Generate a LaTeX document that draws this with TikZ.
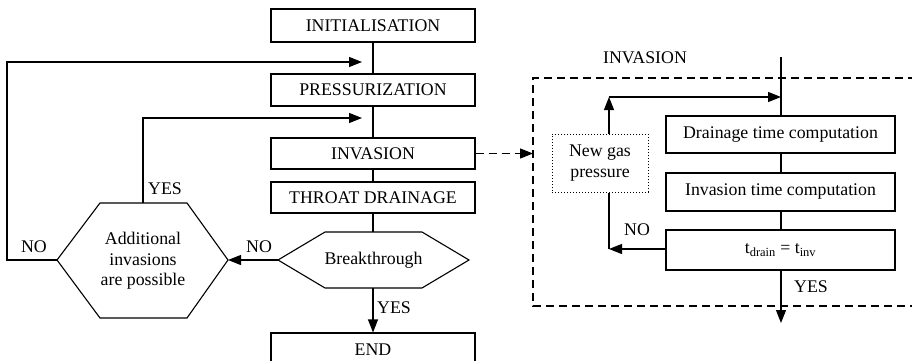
\documentclass[tikz,border=0pt]{standalone}
\usepackage{fontspec}
\setmainfont{Liberation Serif}
\usetikzlibrary{arrows.meta}
\tikzset{
  box/.style={draw, line width=1.1pt, minimum width=204pt, minimum height=32pt, inner sep=0pt, anchor=center},
  rbox/.style={draw, line width=1.1pt, minimum width=229pt, inner sep=0pt, anchor=center},
  dotbox/.style={draw, dotted, line width=1pt, minimum width=96pt, minimum height=58pt, inner sep=0pt, align=center},
  txt/.style={inner sep=0pt, align=center},
  ln/.style={line width=1.1pt},
  tip/.style={-{Triangle[length=13pt,width=10pt]}},
  arr/.style={line width=1.1pt, tip},
  dsh/.style={line width=1.1pt, dash pattern=on 8pt off 5pt}
}
\begin{document}
\begin{tikzpicture}[x=1pt,y=-1pt,font=\fontsize{17.8}{20.5}\selectfont]
\useasboundingbox (0,0) rectangle (912,361);
% main column
\node[box, minimum height=33pt] (init) at (373,25.5) {INITIALISATION};
\node[box] (press) at (373,90) {PRESSURIZATION};
\node[box, minimum height=31pt] (inv) at (373,153.5) {INVASION};
\node[box, minimum height=31pt] (throat) at (373,197.5) {THROAT DRAINAGE};
\node[box, minimum height=34pt] (endb) at (373,350) {END};
% Breakthrough hexagon
\coordinate (brkW) at (278,260);
\coordinate (brkE) at (469,260);
\coordinate (brkN) at (373,232);
\coordinate (brkS) at (373,288);
\draw[ln] (brkW) -- (325,232) -- (422,232) -- (brkE) -- (422,288) -- (325,288) -- cycle;
\node[txt] (brk) at (373.5,260) {Breakthrough};
% Additional hexagon
\coordinate (addW) at (57,260);
\coordinate (addE) at (228,260);
\coordinate (addN) at (143,203);
\draw[ln] (addW) -- (100,203) -- (187,203) -- (addE) -- (187,318) -- (100,318) -- cycle;
\node[txt] (add) at (143,261) {Additional\\invasions\\are possible};
% connectors main column
\coordinate (inA) at (362,62);
\coordinate (inB) at (362,118);
\draw[ln] (init.south) -- (press.north);
\draw[ln] (press.south) -- (inv.north);
\draw[ln] (inv.south) -- (throat.north);
\draw[ln] (throat.south) -- (brkN);
\draw[arr] (brkS) -- (endb.north);
\draw[arr] (brkW) -- (addE);
\draw[arr] (addW) -- (7,260) -- (7,62) -- (inA);
\draw[arr] (addN) -- (143,118) -- (inB);
\node[txt] (yes1) at (394,308) {YES};
\node[txt] (no1) at (259,247) {NO};
\node[txt] (no2) at (34,247) {NO};
\node[txt] (yes2) at (165,189) {YES};
% right part
\node[txt] (invlab) at (645,58) {INVASION};
\draw[dsh] (916,78) -- (533,78) -- (533,306) -- (916,306);
\coordinate (dl) at (533,153.5);
\draw[dsh, tip] (inv.east) -- (dl);
\node[rbox, minimum height=37pt] (drain) at (780.5,134.5) {Drainage time computation};
\node[rbox, minimum height=38pt] (invt) at (780.5,192) {Invasion time computation};
\node[rbox, minimum height=40pt] (tb) at (780.5,250) {t\textsubscript{drain} = t\textsubscript{inv}};
\coordinate (topin) at (781,57);
\coordinate (merge) at (781,97);
\coordinate (outb) at (781,323);
\draw[ln] (topin) -- (drain.north -| topin);
\draw[ln] (drain.south -| topin) -- (invt.north -| topin);
\draw[ln] (invt.south -| topin) -- (tb.north -| topin);
\draw[arr] (tb.south -| topin) -- (outb);
\node[txt] (yes3) at (811,287) {YES};
\node[dotbox] (ngp) at (600,163) {New gas\\pressure};
\coordinate (noEnd) at (609,249);
\coordinate (corner) at (609,97);
\draw[arr] (tb.west |- noEnd) -- (noEnd);
\draw[ln] (noEnd) -- (ngp.south -| noEnd);
\draw[arr] (ngp.north -| corner) -- (corner);
\draw[arr] (corner) -- (merge);
\node[txt] (no3) at (637,230) {NO};
\end{tikzpicture}
\end{document}
